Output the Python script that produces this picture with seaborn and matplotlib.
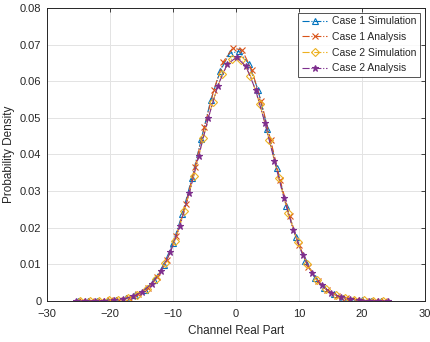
import numpy as np
import pandas as pd
import seaborn as sns
import matplotlib.pyplot as plt

# Case 1 simulation (triangles)
x_c1_sim = [-25.0, -23.5, -22.0, -20.5, -19.0, -17.5, -16.0, -14.5, -13.0, -11.5, -10.0,
            -8.5, -7.0, -5.5, -4.0, -2.5, -1.0, 0.5, 2.0, 3.5, 5.0, 6.5, 8.0, 9.5, 11.0,
            12.5, 14.0, 15.5, 17.0, 18.5, 20.0, 21.5, 23.0]
y_c1_sim = [0.00001, 0.00002, 0.00005, 0.00012, 0.00030, 0.00070, 0.00150, 0.00300, 0.00560,
            0.00980, 0.01580, 0.02380, 0.03360, 0.04420, 0.05480, 0.06280, 0.06760, 0.06810,
            0.06480, 0.05760, 0.04700, 0.03620, 0.02600, 0.01740, 0.01090, 0.00640, 0.00350,
            0.00180, 0.00086, 0.00038, 0.00016, 0.00006, 0.00002]

# Case 1 analysis (crosses)
x_c1_ana = [-24.5, -23.0, -21.5, -20.0, -18.5, -17.0, -15.5, -14.0, -12.5, -11.0, -9.5,
            -8.0, -6.5, -5.0, -3.5, -2.0, -0.5, 1.0, 2.5, 4.0, 5.5, 7.0, 8.5, 10.0, 11.5,
            13.0, 14.5, 16.0, 17.5, 19.0, 20.5, 22.0, 23.5]
y_c1_ana = [0.00001, 0.00002, 0.00006, 0.00016, 0.00039, 0.00088, 0.00183, 0.00358, 0.00653,
            0.01110, 0.01770, 0.02640, 0.03660, 0.04760, 0.05770, 0.06530, 0.06910, 0.06840,
            0.06310, 0.05450, 0.04390, 0.03310, 0.02330, 0.01530, 0.00940, 0.00537, 0.00288,
            0.00145, 0.00068, 0.00029, 0.00012, 0.00005, 0.00002]

# Case 2 simulation (diamonds)
x_c2_sim = [-24.7, -23.2, -21.7, -20.2, -18.7, -17.2, -15.7, -14.2, -12.7, -11.2, -9.7,
            -8.2, -6.7, -5.2, -3.7, -2.2, -0.7, 0.8, 2.3, 3.8, 5.3, 6.8, 8.3, 9.8, 11.3,
            12.8, 14.3, 15.8, 17.3, 18.8, 20.3, 21.8, 23.3]
y_c2_sim = [0.00001, 0.00002, 0.00006, 0.00016, 0.00037, 0.00082, 0.00171, 0.00331, 0.00605,
            0.01030, 0.01640, 0.02450, 0.03410, 0.04450, 0.05430, 0.06190, 0.06600, 0.06590,
            0.06150, 0.05370, 0.04380, 0.03350, 0.02390, 0.01600, 0.01000, 0.00583, 0.00318,
            0.00163, 0.00078, 0.00035, 0.00015, 0.00006, 0.00002]

# Case 2 analysis (stars)
x_c2_ana = [-25.4, -23.9, -22.4, -20.9, -19.4, -17.9, -16.4, -14.9, -13.4, -11.9, -10.4,
            -8.9, -7.4, -5.9, -4.4, -2.9, -1.4, 0.1, 1.6, 3.1, 4.6, 6.1, 7.6, 9.1, 10.6,
            12.1, 13.6, 15.1, 16.6, 18.1, 19.6, 21.1, 22.6, 24.1]
y_c2_ana = [0.00001, 0.00001, 0.00004, 0.00010, 0.00025, 0.00057, 0.00122, 0.00245, 0.00461,
            0.00811, 0.01330, 0.02050, 0.02950, 0.03970, 0.04990, 0.05870, 0.06460, 0.06650,
            0.06400, 0.05770, 0.04860, 0.03830, 0.02820, 0.01940, 0.01250, 0.00755, 0.00425,
            0.00225, 0.00111, 0.00051, 0.00022, 0.00009, 0.00003, 0.00001]

labels = ["Case 1 Simulation", "Case 1 Analysis", "Case 2 Simulation", "Case 2 Analysis"]

sns.set_theme(style="white")
plt.rcParams['font.family'] = ['Liberation Sans', 'DejaVu Sans']

fig = plt.figure(figsize=(4.31, 3.42), dpi=100)
ax = fig.add_axes([0.109, 0.120, 0.877, 0.857])

series = [
    (x_c1_sim, y_c1_sim, "#0072BD", "^", 5.0),
    (x_c1_ana, y_c1_ana, "#D95319", "x", 4.0),
    (x_c2_sim, y_c2_sim, "#EDB120", "D", 4.0),
    (x_c2_ana, y_c2_ana, "#7E2F8E", "*", 5.0),
]
for (xs, ys, col, mk, ms), lab in zip(series, labels):
    df = pd.DataFrame({"x": xs, "y": ys})
    sns.lineplot(data=df, x="x", y="y", ax=ax, color=col, marker=mk, markersize=ms,
                 markerfacecolor="none" if mk in ("^", "D") else col,
                 markeredgecolor=col, markeredgewidth=0.8,
                 linestyle="-.", linewidth=0.8, label=lab, sort=False, estimator=None)

ax.set_xlim(-30, 30)
ax.set_ylim(0, 0.08)
ax.set_xticks(np.arange(-30, 31, 10))
ax.set_yticks(np.arange(0, 0.081, 0.01))
ax.set_yticklabels(["0", "0.01", "0.02", "0.03", "0.04", "0.05", "0.06", "0.07", "0.08"])
ax.set_xlabel("Channel Real Part", fontsize=8.5, labelpad=4, color="#262626")
ax.set_ylabel("Probability Density", fontsize=8.5, color="#262626")
ax.yaxis.set_label_coords(-0.085, 0.5)
ax.grid(True, color="#e3e3e3", linewidth=0.7)
ax.tick_params(direction="in", top=True, right=True, length=3, width=0.6,
               labelsize=8, colors="#262626")
ax.tick_params(axis="x", pad=6)
ax.tick_params(axis="y", pad=4)
for sp in ax.spines.values():
    sp.set_color("#262626")
    sp.set_linewidth(0.7)

leg = ax.legend(loc="upper right", fontsize=7.5, frameon=True, fancybox=False,
                edgecolor="#262626", handlelength=2.4, handletextpad=0.5,
                borderpad=0.35, labelspacing=0.55, borderaxespad=0.45)
leg.get_frame().set_linewidth(0.7)

fig.savefig("out.png", dpi=100)
